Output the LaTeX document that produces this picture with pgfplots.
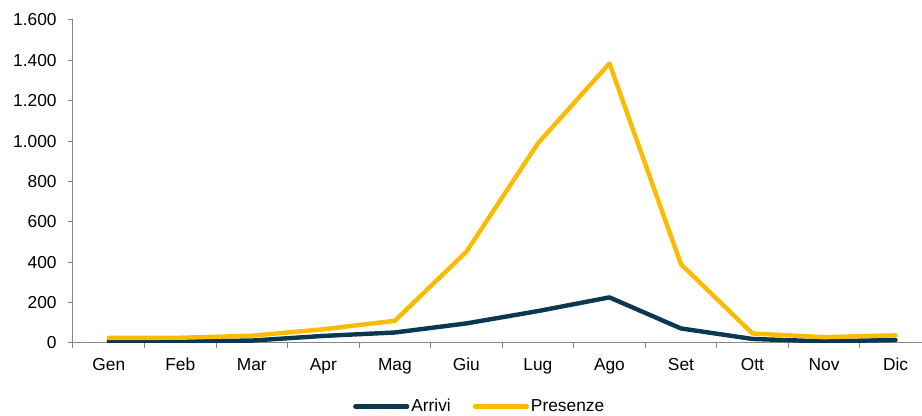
\documentclass[border=0pt]{standalone}
\usepackage{pgfplots}
\pgfplotsset{compat=1.18}
\usepackage{fontspec}
\setmainfont{Liberation Sans}
\definecolor{navy}{HTML}{0B3850}
\definecolor{gold}{HTML}{FABB00}
\definecolor{axgray}{HTML}{868686}
\begin{document}
\fontsize{13pt}{15pt}\selectfont
\begin{tikzpicture}
\useasboundingbox (-54.75pt,-54.75pt) rectangle (636.75pt,257.25pt);
\begin{axis}[
  at={(0,0)}, anchor=south west,
  scale only axis, width=636.75pt, height=242.25pt,
  xmin=-0.5, xmax=11.37, ymin=0, ymax=1600,
  axis x line*=bottom, axis y line*=left,
  axis line style={-, axgray, line width=0.75pt},
  ytick={0,200,...,1600},
  xtick={-0.5,0.5,...,10.5}, xticklabels={},
  extra x ticks={0,1,2,3,4,5,6,7,8,9,10,11},
  extra x tick labels={Gen,Feb,Mar,Apr,Mag,Giu,Lug,Ago,Set,Ott,Nov,Dic},
  extra x tick style={major tick length=0pt},
  tick align=outside, major tick length=3.75pt,
  tick style={axgray, line width=0.75pt},
  /pgf/number format/1000 sep={.},
  /pgf/number format/assume math mode=true,
  tick label style={font=\fontsize{13pt}{15pt}\selectfont, text=black},
  xticklabel style={text height=9.4pt, text depth=2.8pt, inner sep=0pt, anchor=north, yshift=-11pt},
  yticklabel style={xshift=-4pt},
  legend style={at={(0.479,-0.197)}, anchor=center, draw=none, fill=none,
    legend columns=2, font=\fontsize{13pt}{15pt}\selectfont,
    nodes={inner sep=1.5pt},
    /tikz/every even column/.append style={column sep=15pt},
    inner sep=0pt, outer sep=0pt},
  legend cell align=left,
  legend image code/.code={\draw[#1, line cap=round] (1.65pt,0pt) -- (40.5pt,0pt);},
]
\addplot[navy, line width=3.3pt, line cap=round, line join=round] coordinates {
 (0,8) (1,8) (2,12) (3,35) (4,52) (5,97) (6,158) (7,226) (8,72) (9,20) (10,8) (11,15)};
\addlegendentry{Arrivi}
\addplot[gold, line width=3.3pt, line cap=round, line join=round] coordinates {
 (0,25) (1,26) (2,36) (3,68) (4,110) (5,452) (6,989) (7,1385) (8,390) (9,47) (10,29) (11,38)};
\addlegendentry{Presenze}
\end{axis}
\end{tikzpicture}
\end{document}
